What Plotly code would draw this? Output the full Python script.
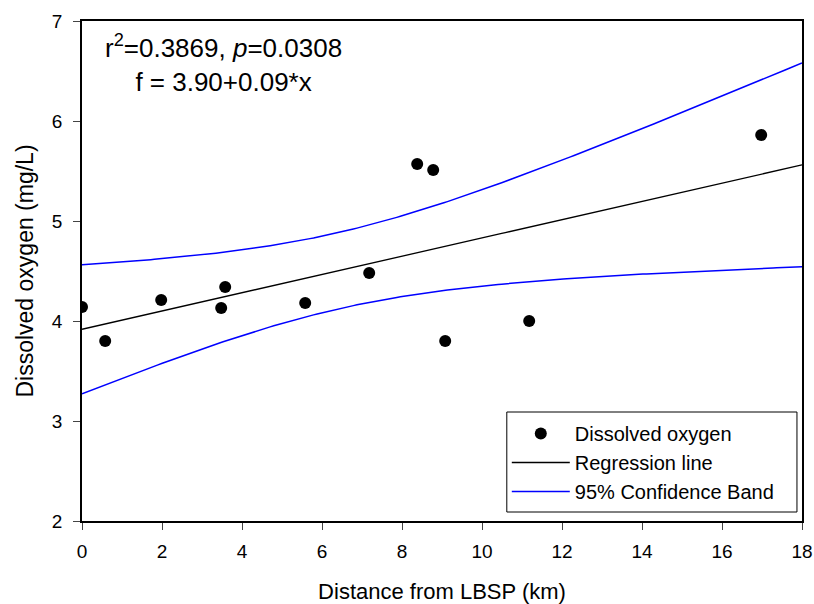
import numpy as np
import plotly.graph_objects as go

# Data
distance_km = [0.0, 0.58, 1.98, 3.48, 3.58, 5.58, 7.18, 8.38, 8.78, 9.08, 11.18, 16.98]
dissolved_oxygen = [4.14, 3.80, 4.21, 4.13, 4.34, 4.18, 4.48, 5.57, 5.51, 3.80, 4.00, 5.86]
x_ticks = [0, 2, 4, 6, 8, 10, 12, 14, 16, 18]
y_ticks = [2, 3, 4, 5, 6, 7]
t_crit = 2.228  # t(0.975, df=10)

x = np.array(distance_km)
y = np.array(dissolved_oxygen)
n = len(x)
slope, intercept = np.polyfit(x, y, 1)
resid = y - (intercept + slope * x)
s = np.sqrt(np.sum(resid ** 2) / (n - 2))
sxx = np.sum((x - x.mean()) ** 2)
xg = np.linspace(0, 18, 200)
yhat = intercept + slope * xg
half = t_crit * s * np.sqrt(1.0 / n + (xg - x.mean()) ** 2 / sxx)

font = "Liberation Sans, Arial, sans-serif"
fig = go.Figure()
fig.add_trace(go.Scatter(x=x, y=y, mode="markers", name="Dissolved oxygen",
                         marker=dict(color="black", size=12)))
fig.add_trace(go.Scatter(x=xg, y=yhat, mode="lines", name="Regression line",
                         line=dict(color="black", width=1.3)))
fig.add_trace(go.Scatter(x=xg, y=yhat + half, mode="lines", name="95% Confidence Band",
                         line=dict(color="#0000ff", width=1.5)))
fig.add_trace(go.Scatter(x=xg, y=yhat - half, mode="lines", showlegend=False,
                         line=dict(color="#0000ff", width=1.5)))

fig.add_annotation(x=0.196, y=0.986, xref="paper", yref="paper", xanchor="center", yanchor="top",
                   text="r<sup>2</sup>=0.3869, <i>p</i>=0.0308<br>f = 3.90+0.09*x",
                   showarrow=False, font=dict(family=font, size=26, color="black"), align="center")

# legend frame
fig.add_shape(type="rect", xref="paper", yref="paper", x0=0.590, x1=0.993, y0=0.018, y1=0.218,
              line=dict(color="black", width=1), fillcolor="white", layer="below")

fig.update_layout(
    width=814, height=604,
    margin=dict(l=82, r=12, t=21, b=83, autoexpand=False),
    plot_bgcolor="white", paper_bgcolor="white",
    font=dict(family=font, size=18, color="black"),
    legend=dict(x=0.590, y=0.020, xanchor="left", yanchor="bottom",
                borderwidth=0, bgcolor="rgba(0,0,0,0)",
                font=dict(size=20), tracegroupgap=0, itemwidth=58),
    xaxis=dict(range=[0, 18], tickvals=x_ticks, ticks="outside", ticklen=7, tickwidth=1.3,
               ticklabelstandoff=5, tickfont=dict(size=19),
               showline=True, linecolor="black", linewidth=1.5, mirror=True, showgrid=False,
               zeroline=False, title=dict(text="Distance from LBSP (km)", font=dict(size=22), standoff=24)),
    yaxis=dict(range=[2, 7], tickvals=y_ticks, ticks="outside", ticklen=7, tickwidth=1.3,
               ticklabelstandoff=7, tickfont=dict(size=19),
               showline=True, linecolor="black", linewidth=1.5, mirror=True, showgrid=False,
               zeroline=False, title=dict(text="Dissolved oxygen (mg/L)", font=dict(size=23), standoff=12)),
)
fig.write_html("out.html")
